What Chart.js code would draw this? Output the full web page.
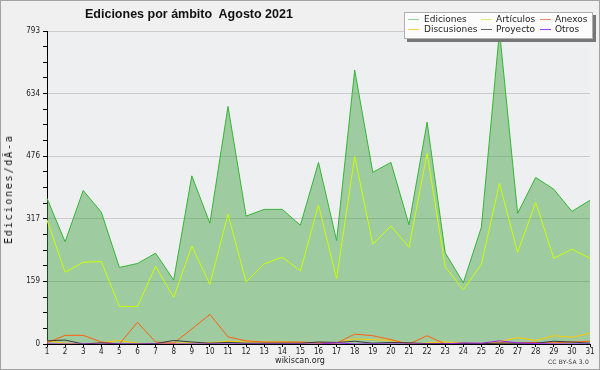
<!DOCTYPE html>
<html><head><meta charset="utf-8">
<script src="https://cdn.jsdelivr.net/npm/chart.js@4"></script>
<style>
html,body{margin:0;padding:0;background:#f0f0f0;}
#wrap{position:relative;width:600px;height:370px;background:#f0f0f0;overflow:hidden;}
#c{position:absolute;left:0;top:0;}
#frame{position:absolute;left:0;top:0;width:600px;height:370px;box-sizing:border-box;border:1px solid #a3a3a3;pointer-events:none;}
.t{position:absolute;white-space:pre;color:#111;}
#title{left:85px;top:7px;font:bold 12.5px/14px "Liberation Sans",Arial,sans-serif;}
#ylab{left:8.9px;top:190px;font:10px/12px "DejaVu Sans Mono",monospace;letter-spacing:1.8px;padding-left:1.8px;transform:translate(-50%,-50%) rotate(-90deg);}
#wiki{left:300px;top:355.5px;font:8px/10px "DejaVu Sans",sans-serif;transform:translateX(-50%);color:#222;}
#cc{right:11px;top:357.5px;font:6px/8px "DejaVu Sans",sans-serif;color:#333;letter-spacing:0.2px;}
#legend{position:absolute;left:404px;top:12px;width:189px;height:27px;box-sizing:border-box;background:#fcfcfc;border:1px solid #b0b0b0;box-shadow:3px 3px 0 #777;}
.lt{position:absolute;white-space:nowrap;font:9px/10px "DejaVu Sans",sans-serif;color:#222;}
.ls{position:absolute;width:11px;height:1px;}
</style>
</head><body>
<div id="wrap">
<canvas id="c" width="600" height="370"></canvas>
<div class="t" id="title"></div>
<div class="t" id="ylab"></div>
<div class="t" id="wiki"></div>
<div class="t" id="cc"></div>
<div id="legend"></div>
<div id="legendItems"></div>
<div id="frame"></div>
</div>
<script>
const titleText = 'Ediciones por ámbito  Agosto 2021';
const yAxisTitle = 'Ediciones/dÃ-a';
const footerSite = 'wikiscan.org';
const footerLicense = 'CC BY-SA 3.0';
const days = ['1','2','3','4','5','6','7','8','9','10','11','12','13','14','15','16','17','18','19','20','21','22','23','24','25','26','27','28','29','30','31'];
const seriesNames = ['Ediciones','Artículos','Anexos','Discusiones','Proyecto','Otros'];
const seriesColors = ['#35b535','#ccff00','#ff6010','#ffc800','#3a3a3a','#9a20ff'];
const legendColors = ['#8fd88f','#d6f56a','#f58a5a','#ffd040','#666666','#9a40ff'];
const ediciones   = [369,259,389,334,194,204,230,162,426,306,602,324,341,341,301,460,262,694,435,460,302,562,231,155,296,793,331,422,392,336,364];
const articulos   = [314,182,207,209,95,95,197,118,248,151,329,157,203,220,185,352,166,475,253,299,245,483,196,137,202,407,232,359,217,240,217];
const anexos      = [3,22,22,5,0,55,5,2,38,75,18,8,5,5,5,3,2,25,21,11,0,21,0,0,0,3,3,4,3,5,7];
const discusiones = [8,2,0,3,9,2,0,2,3,3,7,5,5,5,3,2,3,13,11,9,0,3,5,3,2,6,16,9,21,17,27];
const proyecto    = [8,10,0,3,0,0,1,9,5,2,4,2,2,2,2,5,4,7,2,4,3,1,1,1,1,2,2,2,7,5,2];
const otros       = [0,0,0,0,0,0,0,0,0,0,0,0,0,0,0,0,3,0,0,0,0,0,0,3,2,8,3,1,0,0,0];
const yMax = 793;
const yTickLabels = ['0','159','317','476','634','793'];
const yMinorPerMajor = 4;

document.getElementById('title').textContent = titleText;
document.getElementById('ylab').textContent = yAxisTitle;
document.getElementById('wiki').textContent = footerSite;
document.getElementById('cc').textContent = footerLicense;

// legend
const legPos = [
  {sx:408, tx:424, y:19},{sx:480.5, tx:496, y:19},{sx:539.5, tx:555, y:19},
  {sx:408, tx:424, y:29.3},{sx:480.5, tx:496, y:29.3},{sx:539.5, tx:555, y:29.3}
];
const legOrder = [0,1,2,3,4,5];
const li = document.getElementById('legendItems');
legOrder.forEach((si,k)=>{
  const p = legPos[k];
  const s = document.createElement('div'); s.className='ls';
  s.style.left = p.sx+'px'; s.style.top = Math.round(p.y)+'px'; s.style.background = legendColors[si];
  li.appendChild(s);
  const t = document.createElement('div'); t.className='lt';
  t.style.left = p.tx+'px'; t.style.top = (p.y-4.9)+'px'; t.textContent = seriesNames[si];
  li.appendChild(t);
});

const plotBg = {id:'plotBg', beforeDraw(chart){
  const {ctx, chartArea:a} = chart; ctx.save(); ctx.fillStyle='#eeeff1';
  ctx.fillRect(a.left,a.top,a.right-a.left,a.bottom-a.top); ctx.restore();
}};

const seriesData = [ediciones, articulos, anexos, discusiones, proyecto, otros];
const orders = [10,5,3,4,2,1];
const datasets = seriesData.map((d,i)=>({
  label: seriesNames[i], data: d, borderColor: seriesColors[i], borderWidth: 1,
  pointRadius: 0, tension: 0, order: orders[i],
  fill: i===0 ? 'origin' : false,
  backgroundColor: i===0 ? 'rgba(60,160,60,0.45)' : seriesColors[i]
}));

const tickFont = {family:'"DejaVu Sans Condensed","DejaVu Sans",sans-serif', size:8};
new Chart(document.getElementById('c'), {
  type:'line',
  data:{labels:days, datasets},
  plugins:[plotBg],
  options:{
    responsive:false, animation:false,
    layout:{padding:{top:31,right:10,left:0,bottom:0}},
    plugins:{legend:{display:false}, tooltip:{enabled:false}, title:{display:false}},
    scales:{
      x:{
        offset:false,
        grid:{drawOnChartArea:false, tickLength:3, tickColor:'#000', color:'#000'},
        border:{display:true, color:'#000', width:1},
        ticks:{font:tickFont, color:'#222', maxRotation:0, autoSkip:false, padding:0},
        afterFit(scale){ scale.height = 26; }
      },
      y:{
        min:0, max:yMax,
        afterBuildTicks(scale){
          const n = (yTickLabels.length-1)*yMinorPerMajor;
          scale.ticks = Array.from({length:n+1},(_,i)=>({value:i*yMax/n}));
        },
        grid:{
          color:(c)=> (c.index % yMinorPerMajor===0 && c.index>0) ? '#cbcbcb' : 'rgba(0,0,0,0)',
          tickColor:'#000', tickLength:4, lineWidth:1
        },
        border:{display:true, color:'#000', width:1},
        ticks:{font:tickFont, color:'#222', padding:3, autoSkip:false,
          callback:(v,i)=> i % yMinorPerMajor===0 ? yTickLabels[i/yMinorPerMajor] : ''},
        afterFit(scale){ scale.width = 47; }
      }
    }
  }
});
</script>
</body></html>
